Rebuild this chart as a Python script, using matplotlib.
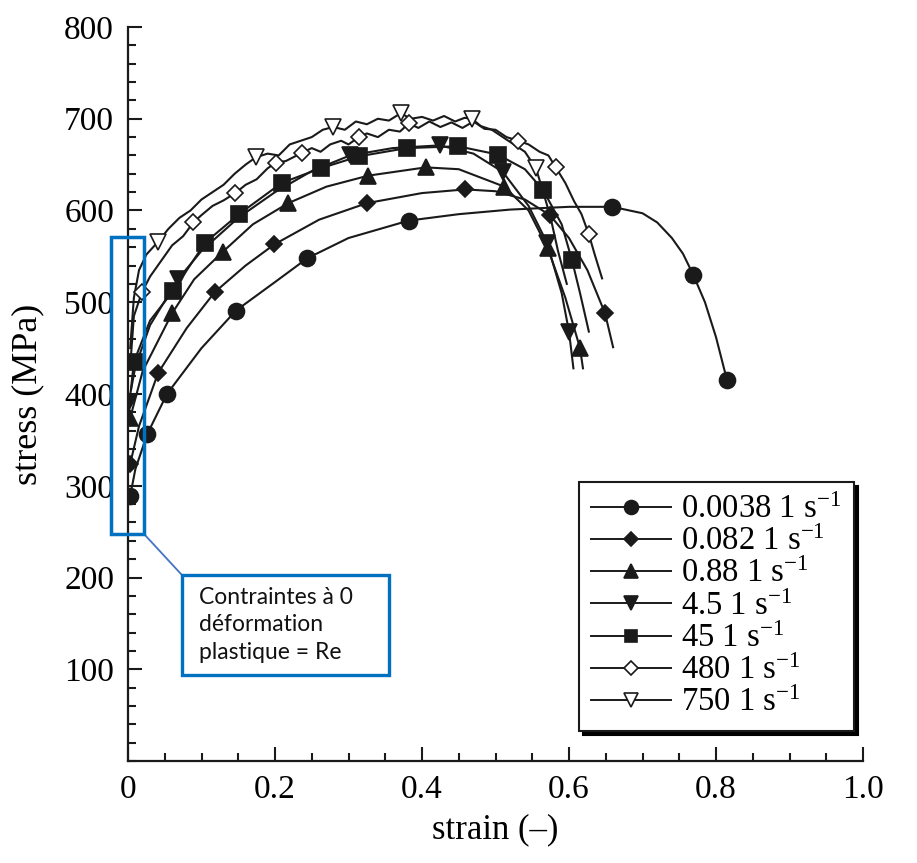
import matplotlib
matplotlib.use('Agg')
import matplotlib.pyplot as plt
from matplotlib.lines import Line2D
from matplotlib.patches import Rectangle

plt.rcParams['font.family'] = ['Liberation Serif', 'DejaVu Serif']
plt.rcParams['mathtext.fontset'] = 'custom'
plt.rcParams['mathtext.rm'] = 'Liberation Serif'
plt.rcParams['mathtext.it'] = 'Liberation Serif:italic'
plt.rcParams['mathtext.bf'] = 'Liberation Serif:bold'

# ---------------- data ----------------
rates = ['0.0038', '0.082', '0.88', '4.5', '45', '480', '750']

# 0.0038 1/s (filled circle)
x_0038 = [0.003, 0.010, 0.026, 0.053, 0.100, 0.147, 0.200, 0.244, 0.300, 0.382, 0.450, 0.520, 0.600, 0.659, 0.700, 0.720, 0.740, 0.755, 0.769, 0.785, 0.800, 0.815]
y_0038 = [289, 318, 356, 400, 450, 491, 522, 548, 570, 589, 596, 601, 604, 604, 597, 587, 570, 553, 530, 500, 462, 415]
mx_0038 = [0.003, 0.026, 0.053, 0.147, 0.244, 0.382, 0.659, 0.769, 0.815]
my_0038 = [289, 356, 400, 491, 548, 589, 604, 530, 415]

# 0.082 1/s (filled diamond)
x_082 = [0.003, 0.015, 0.041, 0.080, 0.118, 0.160, 0.199, 0.260, 0.325, 0.400, 0.459, 0.500, 0.540, 0.574, 0.600, 0.625, 0.649, 0.660]
y_082 = [324, 365, 423, 472, 511, 540, 563, 590, 608, 619, 623, 621, 612, 595, 570, 535, 488, 451]
mx_082 = [0.003, 0.041, 0.118, 0.199, 0.325, 0.459, 0.574, 0.649]
my_082 = [324, 423, 511, 563, 608, 623, 595, 488]

# 0.88 1/s (filled up-triangle)
x_088 = [0.003, 0.020, 0.060, 0.090, 0.129, 0.170, 0.218, 0.270, 0.327, 0.405, 0.450, 0.512, 0.545, 0.571, 0.595, 0.615, 0.619]
y_088 = [374, 425, 488, 525, 555, 585, 608, 626, 638, 647, 645, 626, 600, 559, 505, 450, 428]
mx_088 = [0.003, 0.060, 0.129, 0.218, 0.327, 0.405, 0.512, 0.571, 0.615]
my_088 = [374, 488, 555, 608, 638, 647, 626, 559, 450]

# 4.5 1/s (filled down-triangle)
x_45a = [0.001, 0.010, 0.030, 0.068, 0.100, 0.150, 0.200, 0.250, 0.302, 0.360, 0.424, 0.470, 0.510, 0.545, 0.570, 0.590, 0.600, 0.606]
y_45a = [391, 430, 475, 525, 556, 592, 620, 643, 660, 668, 671, 662, 642, 605, 565, 510, 468, 428]
mx_45a = [0.001, 0.068, 0.302, 0.424, 0.510, 0.570, 0.600]
my_45a = [391, 525, 660, 671, 642, 565, 468]

# 45 1/s (filled square)
x_45 = [0.004, 0.008, 0.030, 0.061, 0.105, 0.151, 0.209, 0.262, 0.314, 0.379, 0.449, 0.503, 0.540, 0.565, 0.590, 0.604, 0.615, 0.627]
y_45 = [405, 435, 480, 512, 565, 596, 630, 646, 659, 668, 670, 661, 645, 622, 585, 546, 510, 468]
mx_45 = [0.008, 0.061, 0.105, 0.151, 0.209, 0.262, 0.314, 0.379, 0.449, 0.503, 0.565, 0.604]
my_45 = [435, 512, 565, 596, 630, 646, 659, 668, 670, 661, 622, 546]

# 480 1/s (open diamond)
x_480 = [0.003, 0.008, 0.019, 0.030, 0.045, 0.060, 0.075, 0.089, 0.100, 0.115, 0.130, 0.146, 0.160, 0.175, 0.190, 0.201, 0.215, 0.237, 0.250, 0.262, 0.275, 0.290, 0.300, 0.314, 0.325, 0.340, 0.355, 0.370, 0.382, 0.395, 0.410, 0.425, 0.440, 0.455, 0.470, 0.485, 0.500, 0.515, 0.531, 0.545, 0.560, 0.572, 0.582, 0.595, 0.607, 0.617, 0.627, 0.635, 0.645]
y_480 = [430, 485, 511, 528, 545, 562, 572, 587, 595, 605, 611, 619, 628, 634, 646, 652, 654, 663, 668, 664, 672, 676, 672, 680, 684, 680, 688, 686, 695, 690, 697, 691, 696, 690, 697, 689, 688, 680, 676, 672, 664, 660, 647, 630, 610, 596, 574, 552, 526]
mx_480 = [0.019, 0.089, 0.146, 0.201, 0.237, 0.314, 0.382, 0.531, 0.582, 0.627]
my_480 = [511, 587, 619, 652, 663, 680, 695, 676, 647, 574]

# 750 1/s (open down-triangle)
x_750 = [0.003, 0.008, 0.015, 0.025, 0.041, 0.055, 0.070, 0.085, 0.100, 0.115, 0.130, 0.145, 0.160, 0.174, 0.190, 0.205, 0.220, 0.235, 0.250, 0.265, 0.279, 0.295, 0.310, 0.325, 0.340, 0.355, 0.371, 0.385, 0.400, 0.415, 0.430, 0.445, 0.458, 0.468, 0.480, 0.495, 0.510, 0.525, 0.540, 0.555, 0.565, 0.575, 0.585, 0.597]
y_750 = [450, 505, 535, 552, 566, 580, 592, 600, 612, 620, 628, 640, 650, 658, 662, 660, 672, 676, 680, 688, 691, 688, 697, 694, 700, 698, 706, 700, 702, 698, 703, 697, 701, 700, 692, 688, 680, 672, 664, 646, 620, 592, 556, 520]
mx_750 = [0.041, 0.174, 0.279, 0.371, 0.468, 0.555]
my_750 = [566, 658, 691, 706, 700, 646]

x_ticks = [0, 0.2, 0.4, 0.6, 0.8, 1.0]
x_ticklabels = ['0', '0.2', '0.4', '0.6', '0.8', '1.0']
y_ticks = [100, 200, 300, 400, 500, 600, 700, 800]
y_ticklabels = ['100', '200', '300', '400', '500', '600', '700', '800']

# ---------------- styles ----------------
lines = [(x_0038, y_0038), (x_082, y_082), (x_088, y_088), (x_45a, y_45a),
         (x_45, y_45), (x_480, y_480), (x_750, y_750)]
marks = [(mx_0038, my_0038), (mx_082, my_082), (mx_088, my_088), (mx_45a, my_45a),
         (mx_45, my_45), (mx_480, my_480), (mx_750, my_750)]
mstyle = [dict(marker='o', ms=11.5, mfc='#1a1a1a'),
          dict(marker='D', ms=8.5, mfc='#1a1a1a'),
          dict(marker='^', ms=11.5, mfc='#1a1a1a'),
          dict(marker='v', ms=11.5, mfc='#1a1a1a'),
          dict(marker='s', ms=11, mfc='#1a1a1a'),
          dict(marker='D', ms=8, mfc='white'),
          dict(marker='v', ms=11.5, mfc='white')]
lstyle = [dict(marker='o', ms=10, mfc='#1a1a1a'),
          dict(marker='D', ms=7.5, mfc='#1a1a1a'),
          dict(marker='^', ms=9.5, mfc='#1a1a1a'),
          dict(marker='v', ms=9.5, mfc='#1a1a1a'),
          dict(marker='s', ms=9, mfc='#1a1a1a'),
          dict(marker='D', ms=7, mfc='white'),
          dict(marker='v', ms=9.5, mfc='white')]
LC = '#1a1a1a'

fig = plt.figure(figsize=(9.17, 8.63), dpi=100)
W, H = 917, 863
ax = fig.add_axes([128 / W, (H - 761) / H, (863 - 128) / W, (761 - 27) / H])

for (lx, ly), (mx, my), ms in zip(lines, marks, mstyle):
    ax.plot(lx, ly, color=LC, lw=1.5, zorder=2)
    ax.plot(mx, my, ls='none', color=LC, mec=LC, mew=1.2, zorder=3, **ms)

ax.set_xlim(0, 1.0)
ax.set_ylim(0, 800)
ax.set_xticks(x_ticks)
ax.set_xticklabels(x_ticklabels)
ax.set_yticks(y_ticks)
ax.set_yticklabels(y_ticklabels)
ax.set_xticks([i * 0.05 for i in range(21)], minor=True)
ax.set_yticks([i * 20 for i in range(41)], minor=True)
ax.tick_params(which='both', direction='in', color=LC, width=1.5, labelsize=24, pad=10)
ax.tick_params(which='major', length=10)
ax.tick_params(which='minor', length=6)
for s in ['top', 'right']:
    ax.spines[s].set_visible(False)
for s in ['left', 'bottom']:
    ax.spines[s].set_linewidth(1.6)
    ax.spines[s].set_color(LC)

ax.set_xlabel('strain (–)', fontsize=25, labelpad=6)
ax.set_ylabel('stress (MPa)', fontsize=26, labelpad=14)

handles = [Line2D([], [], color=LC, lw=1.4, mec=LC, mew=1.2, **ls) for ls in lstyle]
labels = [f'{r} 1 s$^{{-1}}$' for r in rates]
leg = ax.legend(handles, labels, loc='upper left', bbox_to_anchor=(579 / W, 1 - 482 / H),
                bbox_transform=fig.transFigure, borderaxespad=0, fontsize=23.5,
                frameon=True, fancybox=False, edgecolor=LC, framealpha=1,
                handlelength=2.45, handletextpad=0.3, labelspacing=0.05, borderpad=0.38,
                shadow={'ox': 3, 'oy': -3, 'facecolor': 'black', 'edgecolor': 'black', 'alpha': 1})
leg.get_frame().set_linewidth(1.5)

# annotation
BLUE = '#0070C0'
fig.patches.append(Rectangle((111 / W, 1 - 534 / H), (144 - 111) / W, (534 - 237) / H,
                             transform=fig.transFigure, fill=False, ec=BLUE, lw=2.5, zorder=10))
fig.lines.append(Line2D([144 / W, 181 / W], [1 - 534 / H, 1 - 574 / H],
                        transform=fig.transFigure, color='#4472C4', lw=1.3, zorder=10))
fig.patches.append(Rectangle((182 / W, 1 - 675 / H), (389 - 182) / W, (675 - 575) / H,
                             transform=fig.transFigure, fill=True, fc='white', ec=BLUE, lw=2.4, zorder=10))
fig.text(199 / W, 1 - 587 / H, 'Contraintes à 0\ndéformation\nplastique = Re',
         family=['Lato', 'DejaVu Sans'], fontsize=16.5, va='top', ha='left',
         linespacing=1.38, color='#111111', zorder=11)

fig.savefig('out.png', dpi=100)
